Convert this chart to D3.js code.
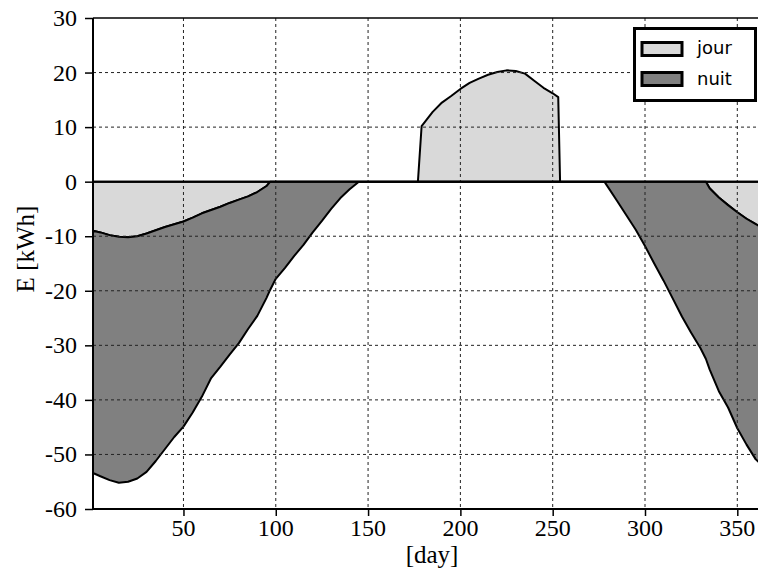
<!DOCTYPE html>
<html>
<head>
<meta charset="utf-8">
<script src="https://cdn.jsdelivr.net/npm/d3@7"></script>
<style>
  body { margin: 0; background: #fff; }
  svg { display: block; }
</style>
</head>
<body>
<div id="chart"></div>
<script>
// data: day of year, energy in kWh
var days = [1, 5, 10, 15, 20, 25, 30, 35, 40, 45, 50, 55, 60, 65, 70, 75, 80, 85, 90, 95, 97,
    100, 105, 110, 115, 120, 125, 130, 135, 140, 145,
    177, 179, 185, 190, 195, 200, 205, 210, 215, 220, 225, 230, 235, 240, 245, 250, 253, 254,
    278, 285, 290, 295, 300, 305, 310, 315, 320, 325, 330, 333, 335, 340, 345, 350, 355, 360, 365];

var jour = [-9.0, -9.3, -9.8, -10.1, -10.2, -10.0, -9.5, -8.9, -8.3, -7.8, -7.3, -6.6, -5.8, -5.2, -4.6, -3.9, -3.3, -2.7, -1.9, -0.8, 0,
    0, 0, 0, 0, 0, 0, 0, 0, 0, 0,
    0, 10.2, 12.8, 14.5, 15.7, 17.0, 18.1, 18.9, 19.6, 20.1, 20.4, 20.3, 19.8, 18.5, 17.2, 16.2, 15.5, 0,
    0, 0, 0, 0, 0, 0, 0, 0, 0, 0, 0, 0, -1.2, -2.9, -4.3, -5.6, -6.8, -7.8, -8.6];

var nuit = [-44.4, -44.7, -44.9, -45.1, -44.8, -44.4, -43.7, -42.3, -40.7, -39.0, -37.6, -35.7, -33.6, -30.8, -29.3, -27.8, -26.3, -24.3, -22.7, -20.5, -19.8,
    -17.8, -15.8, -13.6, -11.6, -9.3, -7.2, -5.0, -3.0, -1.4, 0,
    0, 0, 0, 0, 0, 0, 0, 0, 0, 0, 0, 0, 0, 0, 0, 0, 0, 0,
    0, -3.6, -6.2, -8.8, -11.8, -15.0, -18.1, -21.4, -24.7, -27.7, -30.5, -32.5, -33.2, -35.5, -37.1, -39.6, -41.4, -43.1, -43.9];

var seriesNames = ["jour", "nuit"];
var seriesColors = ["#d9d9d9", "#808080"];

var xTicks = [50, 100, 150, 200, 250, 300, 350];
var yTicks = [-60, -50, -40, -30, -20, -10, 0, 10, 20, 30];

var svgWidth = 758;
var svgHeight = 573;

// the right edge of the plot runs past the picture, like in the original
var margin = { top: 18, right: -7, bottom: 64, left: 93 };
var width = svgWidth - margin.left - margin.right;
var height = svgHeight - margin.top - margin.bottom;

var serif = "Liberation Serif";

var svg = d3.select("#chart")
    .append("svg")
    .attr("width", svgWidth)
    .attr("height", svgHeight);

var chartGroup = svg.append("g")
    .attr("transform", `translate(${margin.left}, ${margin.top})`);

var table = days.map(function (d, i) {
    return { day: d, jour: jour[i], nuit: nuit[i] };
});

var stack = d3.stack()
    .keys(seriesNames)
    .offset(d3.stackOffsetDiverging);
var layers = stack(table);

var xScale = d3.scaleLinear()
    .domain([1, 365])
    .range([0, width]);

var yScale = d3.scaleLinear()
    .domain([-60, 30])
    .range([height, 0]);

var area = d3.area()
    .x(d => xScale(d.data.day))
    .y0(d => yScale(d[0]))
    .y1(d => yScale(d[1]));

// areas
chartGroup.selectAll(".layer")
    .data(layers)
    .enter()
    .append("path")
    .attr("class", "layer")
    .attr("d", area)
    .attr("fill", (d, i) => seriesColors[i])
    .attr("stroke", "#000")
    .attr("stroke-width", 2)
    .attr("stroke-linejoin", "round");

// dashed grid on top of the areas
chartGroup.selectAll(".vgrid")
    .data(xTicks)
    .enter()
    .append("line")
    .attr("x1", d => xScale(d))
    .attr("x2", d => xScale(d))
    .attr("y1", 0)
    .attr("y2", height)
    .attr("stroke", "#222")
    .attr("stroke-width", 1)
    .attr("stroke-dasharray", "3,3");

chartGroup.selectAll(".hgrid")
    .data(yTicks.filter(d => d != 0 && d != -60 && d != 30))
    .enter()
    .append("line")
    .attr("x1", 0)
    .attr("x2", width)
    .attr("y1", d => yScale(d))
    .attr("y2", d => yScale(d))
    .attr("stroke", "#222")
    .attr("stroke-width", 1)
    .attr("stroke-dasharray", "3,3");

// zero line
chartGroup.append("line")
    .attr("x1", 0)
    .attr("x2", width)
    .attr("y1", yScale(0))
    .attr("y2", yScale(0))
    .attr("stroke", "#000")
    .attr("stroke-width", 2);

// axes: d3 draws the tick marks, the serif labels are added below
var bottomAxis = d3.axisBottom(xScale).tickValues(xTicks).tickSize(7).tickFormat("");
var leftAxis = d3.axisLeft(yScale).tickValues(yTicks).tickSize(8).tickFormat("");

var xAxisG = chartGroup.append("g")
    .attr("transform", `translate(0, ${height})`)
    .call(bottomAxis);

var yAxisG = chartGroup.append("g")
    .call(leftAxis);

[xAxisG, yAxisG].forEach(function (g) {
    g.select(".domain").remove();
    g.selectAll(".tick text").remove();
    g.selectAll(".tick line").attr("stroke", "#000").attr("stroke-width", 1.5);
});

chartGroup.selectAll(".xlab")
    .data(xTicks)
    .enter()
    .append("text")
    .attr("x", d => xScale(d))
    .attr("y", height + 27)
    .attr("text-anchor", "middle")
    .attr("font-family", serif)
    .attr("font-size", 24)
    .attr("fill", "#000")
    .text(d => String(d));

chartGroup.selectAll(".ylab")
    .data(yTicks)
    .enter()
    .append("text")
    .attr("x", -16)
    .attr("y", d => yScale(d) + 8)
    .attr("text-anchor", "end")
    .attr("font-family", serif)
    .attr("font-size", 24)
    .attr("fill", "#000")
    .text(d => String(d));

// frame
chartGroup.append("line")
    .attr("x1", 0).attr("x2", width)
    .attr("y1", 0).attr("y2", 0)
    .attr("stroke", "#000").attr("stroke-width", 1.5);
chartGroup.append("line")
    .attr("x1", 0).attr("x2", width)
    .attr("y1", height).attr("y2", height)
    .attr("stroke", "#000").attr("stroke-width", 2);
chartGroup.append("line")
    .attr("x1", 0).attr("x2", 0)
    .attr("y1", 0).attr("y2", height)
    .attr("stroke", "#000").attr("stroke-width", 2);

// axis labels
svg.append("text")
    .attr("transform", "translate(34, 249) rotate(-90)")
    .attr("text-anchor", "middle")
    .attr("font-family", serif)
    .attr("font-size", 25)
    .text("E [kWh]");

svg.append("text")
    .attr("x", 432)
    .attr("y", 563)
    .attr("text-anchor", "middle")
    .attr("font-family", serif)
    .attr("font-size", 25)
    .text("[day]");

// legend
var legend = svg.append("g");

legend.append("rect")
    .attr("x", 634.5)
    .attr("y", 28.5)
    .attr("width", 121)
    .attr("height", 72)
    .attr("fill", "#fff")
    .attr("stroke", "#000")
    .attr("stroke-width", 3);

seriesNames.forEach(function (name, i) {
    legend.append("rect")
        .attr("x", 642)
        .attr("y", 42.5 + i * 30)
        .attr("width", 40)
        .attr("height", 13)
        .attr("fill", seriesColors[i])
        .attr("stroke", "#000")
        .attr("stroke-width", 3);

    legend.append("text")
        .attr("x", 697)
        .attr("y", 54 + i * 31)
        .attr("font-family", "DejaVu Sans")
        .attr("font-size", 18)
        .text(name);
});
</script>
</body>
</html>
